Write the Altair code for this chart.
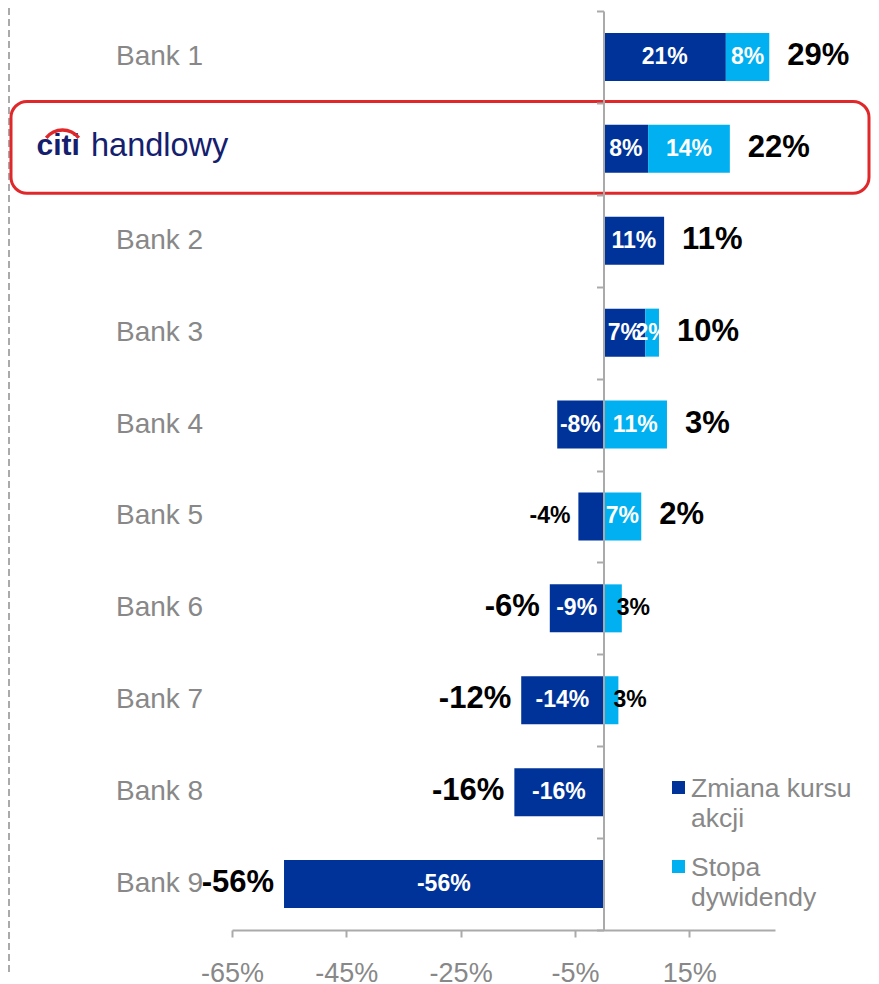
import altair as alt
import numpy as np
import pandas as pd

# ---- data ----
banks = ["Bank 1", "citi handlowy", "Bank 2", "Bank 3", "Bank 4",
         "Bank 5", "Bank 6", "Bank 7", "Bank 8", "Bank 9"]
share_change = [21.4, 7.8, 10.6, 7.3, -8.1, -4.4, -9.4, -14.4, -15.6, -55.9]
dividend_yield = [7.6, 14.3, 0.0, 2.4, 11.1, 6.6, 3.2, 2.6, 0.0, 0.0]
series_names = ["Zmiana kursu akcji", "Stopa dywidendy"]
series_colors = ["#003399", "#00b0f0"]
x_ticks = [-65, -45, -25, -5, 15]
x_domain = [-65, 30]

FONT = "Liberation Sans"
GREY = "#888888"
NAVY = "#14206e"
RED = "#e0282a"


def pct(v):
    r = int(np.sign(v) * np.floor(abs(v) + 0.5))
    return f"{r}%"


bar_rows, seg_rows, tot_rows = [], [], []
for b, k, d in zip(banks, share_change, dividend_yield):
    ks, ke = (0.0, k) if k >= 0 else (k, 0.0)
    ds = max(k, 0.0)
    de = ds + d
    for i, (s, v, a, e) in enumerate([(series_names[0], k, ks, ke),
                                      (series_names[1], d, ds, de)]):
        if v == 0:
            continue
        bar_rows.append(dict(bank=b, series=s, value=v, order=i))
        if abs(v) >= 5 or (v > 0 and a != 0):
            place, xpos = "in", (a + e) / 2
        elif v < 0:
            place, xpos = "left", a
        else:
            place, xpos = "right", e
        seg_rows.append(dict(bank=b, label=pct(v), place=place, x=xpos))
    total = k + d
    if total >= 0:
        tot_rows.append(dict(bank=b, label=pct(total), place="pos", x=max(k, 0.0) + d))
    else:
        tot_rows.append(dict(bank=b, label=pct(total), place="neg", x=min(k, 0.0)))

bars_df = pd.DataFrame(bar_rows)
seg_df = pd.DataFrame(seg_rows)
tot_df = pd.DataFrame(tot_rows)
bank_df = pd.DataFrame({"bank": banks})

xscale = alt.Scale(domain=x_domain, nice=False, zero=False)
yscale = alt.Scale(domain=banks, paddingInner=0, paddingOuter=0)

X_AXIS = alt.Axis(values=x_ticks, labelExpr="datum.value + '%'",
                  title=None, grid=False, domainColor="#aaaaaa",
                  domainWidth=2, tickColor="#aaaaaa", tickWidth=2,
                  tickSize=7, labelFont=FONT, labelFontSize=27,
                  labelColor=GREY, labelPadding=23, labelFlush=False,
                  labelOverlap=False)
Y_AXIS = alt.Axis(orient="left", offset=-371.5, title=None, labels=False,
                  grid=False, domainColor="#aaaaaa", domainWidth=2,
                  tickColor="#aaaaaa", tickWidth=2, tickSize=7,
                  tickBand="extent", zindex=1)

Y = alt.Y("bank:N", scale=yscale, axis=Y_AXIS)
XT = alt.X("x:Q", scale=xscale, axis=X_AXIS)

# frame around the Citi row
frame = alt.Chart(bank_df).transform_filter(
    alt.datum.bank == banks[1]
).mark_rect(fillOpacity=0, stroke=RED, strokeWidth=3, cornerRadius=16).encode(
    y=Y, x=alt.value(-221), x2=alt.value(637), yOffset=alt.value(-1.5)
)

# dashed line on the left edge
dashed = alt.Chart(bank_df.head(1)).mark_rule(
    color="#aaaaaa", strokeWidth=2, strokeDash=[7, 4]
).encode(x=alt.value(-223), y=alt.value(-3), y2=alt.value(965))

bars = alt.Chart(bars_df).mark_bar(size=48).encode(
    x=alt.X("value:Q", stack="zero", scale=xscale, axis=X_AXIS),
    y=Y,
    color=alt.Color("series:N", scale=alt.Scale(domain=series_names, range=series_colors),
                    legend=None),
    order=alt.Order("order:Q"),
)

seg_in = alt.Chart(seg_df).transform_filter(alt.datum.place == "in").mark_text(
    font=FONT, fontSize=23, fontWeight="bold", color="white", align="center", baseline="middle"
).encode(x=XT, y=Y, text="label:N")

seg_left = alt.Chart(seg_df).transform_filter(alt.datum.place == "left").mark_text(
    font=FONT, fontSize=23, fontWeight="bold", color="black", align="right",
    baseline="middle", dx=-8
).encode(x=XT, y=Y, text="label:N")

seg_right = alt.Chart(seg_df).transform_filter(alt.datum.place == "right").mark_text(
    font=FONT, fontSize=23, fontWeight="bold", color="black", align="left",
    baseline="middle", dx=-5
).encode(x=XT, y=Y, text="label:N")

tot_pos = alt.Chart(tot_df).transform_filter(alt.datum.place == "pos").mark_text(
    font=FONT, fontSize=31, fontWeight="bold", color="black", align="left",
    baseline="middle", dx=18, dy=-1
).encode(x=XT, y=Y, text="label:N")

tot_neg = alt.Chart(tot_df).transform_filter(alt.datum.place == "neg").mark_text(
    font=FONT, fontSize=31, fontWeight="bold", color="black", align="right",
    baseline="middle", dx=-10, dy=-1
).encode(x=XT, y=Y, text="label:N")

# category labels
cat_labels = alt.Chart(bank_df).transform_filter(alt.datum.bank != banks[1]).mark_text(
    font=FONT, fontSize=28, color=GREY, align="left", baseline="middle"
).encode(x=alt.value(-116), y=Y, text="bank:N")

citi_df = bank_df[bank_df.bank == banks[1]]
citi_word = alt.Chart(citi_df).transform_calculate(
    part="split(datum.bank, ' ')[0]"
).mark_text(font=FONT, fontSize=30, fontWeight="bold", color=NAVY, align="left",
            baseline="middle", dy=-3).encode(x=alt.value(-195.5), y=Y, text="part:N")
handlowy_word = alt.Chart(citi_df).transform_calculate(
    part="split(datum.bank, ' ')[1]"
).mark_text(font=FONT, fontSize=32.5, color=NAVY, align="left",
            baseline="middle", dy=-3).encode(x=alt.value(-141), y=Y, text="part:N")
citi_arc = alt.Chart(citi_df).mark_arc(
    radius=22.5, radius2=19, theta=5.383, theta2=7.183, color=RED
).encode(x=alt.value(-169.5), y=Y, yOffset=alt.value(47.8))

# legend
leg_df = pd.DataFrame({"series": series_names, "color": series_colors})
legend_layers = []
for i, (name, col) in enumerate(zip(series_names, series_colors)):
    lines = name.rsplit(" ", 1) if i == 0 else name.split(" ", 1)
    y0 = 770 + i * 79
    sq = alt.Chart(leg_df).transform_filter(alt.datum.series == name).mark_rect(
        color=col
    ).encode(x=alt.value(440), x2=alt.value(453), y=alt.value(y0), y2=alt.value(y0 + 13))
    tx = alt.Chart(leg_df).transform_filter(alt.datum.series == name).mark_text(
        font=FONT, fontSize=26.5, color=GREY, align="left", baseline="alphabetic",
        lineHeight=30
    ).encode(x=alt.value(459), y=alt.value(y0 + 16), text=alt.value(lines))
    legend_layers += [sq, tx]

chart = alt.layer(
    dashed, frame, bars, seg_in, seg_left, seg_right, tot_pos, tot_neg,
    cat_labels, citi_word, handlowy_word, citi_arc, *legend_layers
).properties(
    width=543, height=919,
    background="white",
    autosize=alt.AutoSizeParams(type="none"),
    padding={"left": 224, "top": 3, "right": 96, "bottom": 54},
).configure_view(stroke=None)

chart.save("out.html", embed_options={"renderer": "svg", "actions": False})
